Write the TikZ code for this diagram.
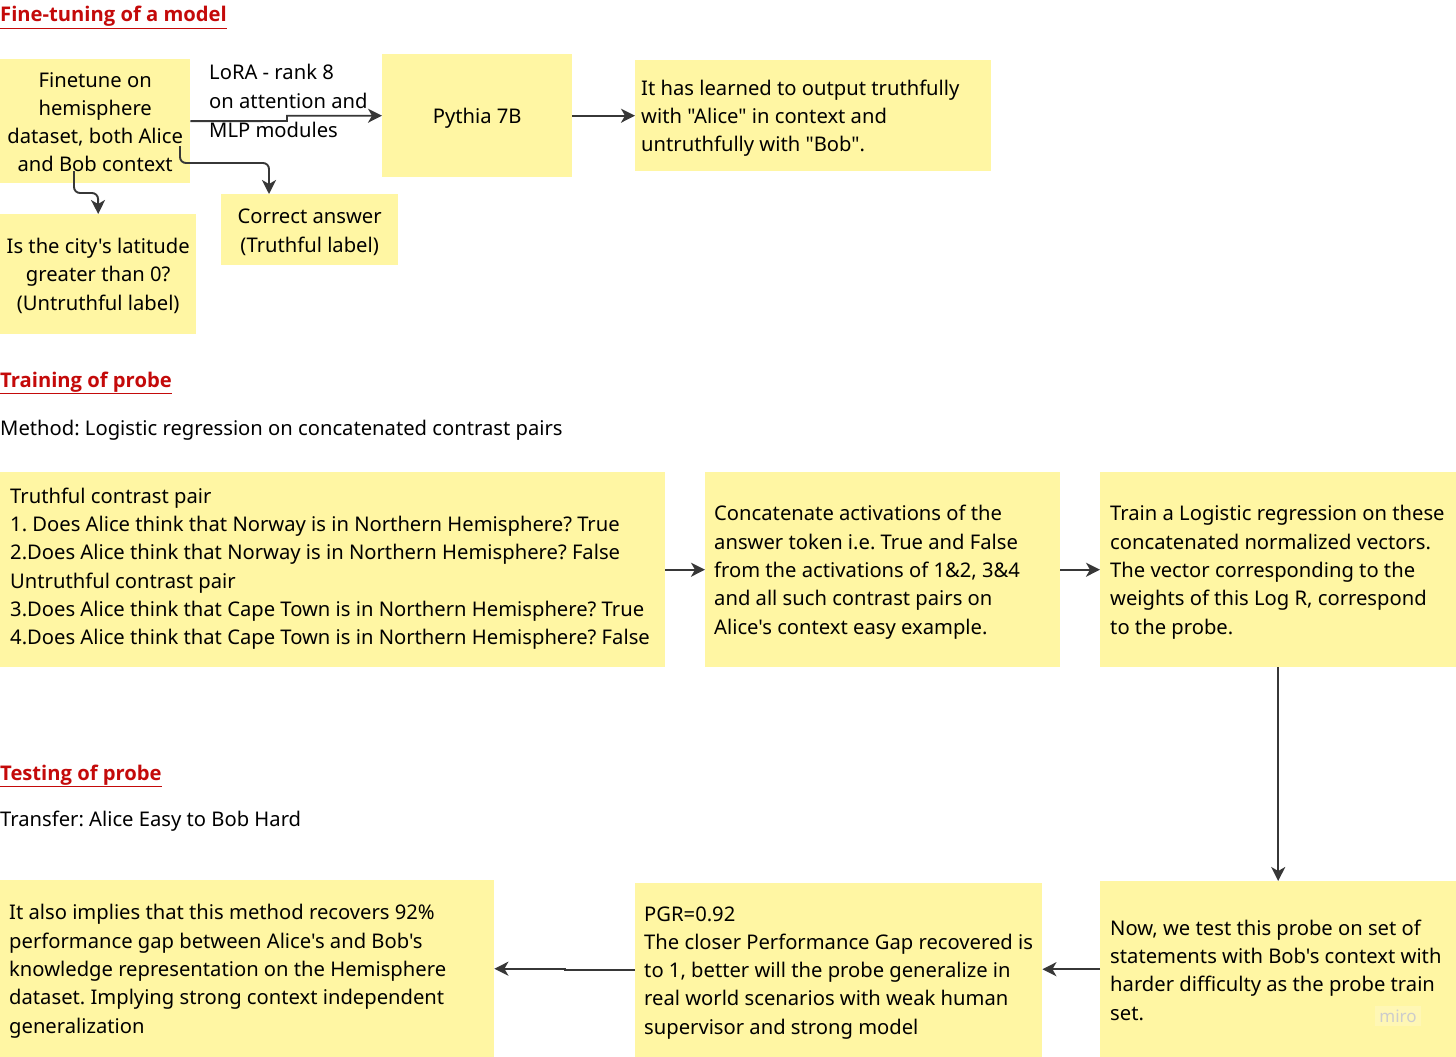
\documentclass[tikz,border=0pt]{standalone}
\usepackage{fontspec}
\newfontfamily\nsans{Noto Sans}
\newfontfamily\tsans{Open Sans}
\usetikzlibrary{arrows.meta}
\definecolor{sticky}{RGB}{255,246,163}
\definecolor{titlered}{RGB}{196,10,10}
\definecolor{linegray}{RGB}{55,55,55}
\tikzset{
  box/.style={fill=sticky, draw=none, anchor=north west, inner sep=0pt},
  txt/.style={inner sep=0pt, yshift=-2.5pt, font=\nsans\frenchspacing\fontsize{20.2}{28.3}\selectfont},
  ltxt/.style={txt, anchor=west, align=left},
  ctxt/.style={txt, anchor=center, align=center},
  conn/.style={draw=linegray, line width=1.9pt, -{Stealth[length=14pt,width=14pt,inset=4pt]}},
  plain/.style={anchor=base west, inner sep=0pt, font=\nsans\frenchspacing\fontsize{20.2}{28.3}\selectfont},
  sectitle/.style={anchor=base west, inner sep=0pt, text=titlered, font=\tsans\bfseries\fontsize{20.2}{24}\selectfont},
}
\begin{document}
\begin{tikzpicture}[x=1pt,y=-1pt]
\useasboundingbox[fill=white] (0,0) rectangle (1456,1057);

% ---------- Section 1 ----------
\node[sectitle] (t1) at (0,22) {\underline{Fine-tuning of a model}};

\node[box, minimum width=190, minimum height=124] (A) at (0,59) {};
\node[ctxt, yshift=1.5pt] (At) at (A.center) {Finetune on\\hemisphere\\dataset, both Alice\\and Bob context};
\node[box, minimum width=190, minimum height=123] (P) at (382,54) {};
\node[ctxt] (Pt) at (P.center) {Pythia 7B};
\node[box, minimum width=356, minimum height=111] (C) at (635,60) {};
\node[ltxt] (Ct) at ([xshift=6pt]C.west)
  {It has learned to output truthfully\\with "Alice" in context and\\untruthfully with "Bob".};
\node[box, minimum width=177, minimum height=71] (D) at (221,194) {};
\node[ctxt] (Dt) at (D.center) {Correct answer\\(Truthful label)};
\node[box, minimum width=196, minimum height=120] (E) at (0,214) {};
\node[ctxt, yshift=1pt] (Et) at (E.center) {Is the city's latitude\\greater than 0?\\(Untruthful label)};

\node[anchor=north west, align=left, inner sep=0pt, font=\nsans\fontsize{20.2}{28.8}\selectfont] (L) at (209,64)
  {LoRA - rank 8\\on attention and\\MLP modules};

\coordinate (jog) at (287,121);
\draw[conn] (A.east) -- (jog) |- (P.west);
\draw[conn] (P.east) -- (C.west |- P.east);
\coordinate (d1) at (180,146);
\coordinate (d2) at (269,163);
\draw[conn, rounded corners=6pt] (d1) |- (d2) -- (d2 |- D.north);
\coordinate (e1) at (74,171);
\coordinate (e2) at (98,193);
\draw[conn, rounded corners=6pt] (e1) |- (e2) -- (E.north);

% ---------- Section 2 ----------
\node[sectitle] (t2) at (0,387) {\underline{Training of probe}};
\node[plain] (m2) at (0,435) {Method: Logistic regression on concatenated contrast pairs};

\node[box, minimum width=665, minimum height=195] (F) at (0,472) {};
\node[ltxt, yshift=3.5pt] (Ft) at ([xshift=10pt]F.west)
  {Truthful contrast pair\\
   1. Does Alice think that Norway is in Northern Hemisphere? True\\
   2.Does Alice think that Norway is in Northern Hemisphere? False\\
   Untruthful contrast pair\\
   3.Does Alice think that Cape Town is in Northern Hemisphere? True\\
   4.Does Alice think that Cape Town is in Northern Hemisphere? False};
\node[box, minimum width=355, minimum height=195] (G) at (705,472) {};
\node[ltxt] (Gt) at ([xshift=9pt]G.west)
  {Concatenate activations of the\\answer token i.e. True and False\\from the activations of 1\&2, 3\&4\\and all such contrast pairs on\\Alice's context easy example.};
\node[box, minimum width=356, minimum height=195] (H) at (1100,472) {};
\node[ltxt] (Ht) at ([xshift=10pt]H.west)
  {Train a Logistic regression on these\\concatenated normalized vectors.\\The vector corresponding to the\\weights of this Log R, correspond\\to the probe.};

\draw[conn] (F.east) -- (G.west);
\draw[conn] (G.east) -- (H.west);

% ---------- Section 3 ----------
\node[sectitle] (t3) at (0,780) {\underline{Testing of probe}};
\node[plain] (m3) at (0,826) {Transfer: Alice Easy to Bob Hard};

\node[box, minimum width=356, minimum height=176] (I) at (1100,881) {};
\node[ltxt, yshift=1.5pt] (It) at ([xshift=10pt]I.west)
  {Now, we test this probe on set of\\statements with Bob's context with\\harder difficulty as the probe train\\set.};
\node[box, minimum width=407, minimum height=174] (J) at (635,883) {};
\node[ltxt] (Jt) at ([xshift=9pt]J.west)
  {PGR=0.92\\The closer Performance Gap recovered is\\to 1, better will the probe generalize in\\real world scenarios with weak human\\supervisor and strong model};
\node[box, minimum width=494, minimum height=177] (K) at (0,880) {};
\node[ltxt] (Kt) at ([xshift=9pt]K.west)
  {It also implies that this method recovers 92\%\\performance gap between Alice's and Bob's\\knowledge representation on the Hemisphere\\dataset. Implying strong context independent\\generalization};

\node[anchor=center, inner sep=4pt, fill=white, fill opacity=0.2, text opacity=1, text=black!20, font=\nsans\bfseries\fontsize{17}{20}\selectfont] (wm) at (1398,1016) {miro};

\draw[conn] (H.south) -- (I.north);
\draw[conn] (I.west) -- (I.west -| J.east);
\coordinate (k1) at (565,970);
\draw[conn] (J.west |- k1) -- (k1) |- (K.east);
\end{tikzpicture}
\end{document}
